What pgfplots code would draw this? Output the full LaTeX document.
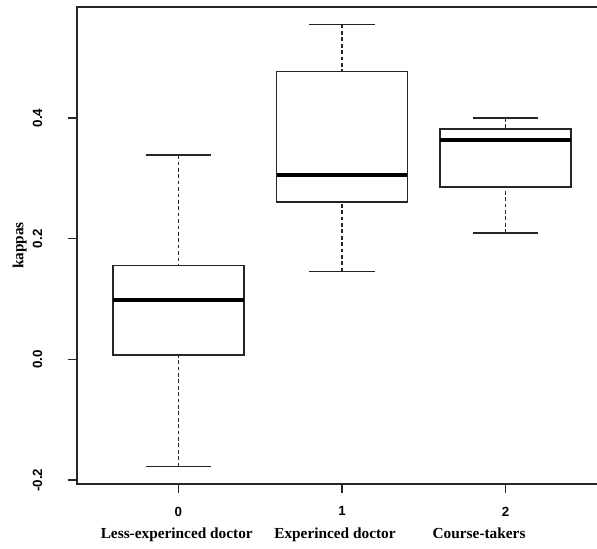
\documentclass[border=0pt]{standalone}
\usepackage{fontspec}
\setmainfont{Liberation Serif}
\setsansfont{Liberation Sans}
\usepackage{pgfplots}
\pgfplotsset{compat=1.18}
\usepgfplotslibrary{statistics}

% vertical boxes, dashed whisker stems with solid end caps
\pgfplotsset{
  boxplot/draw direction=y,
  boxplot/draw/lower whisker/.code={%
    \draw[dash pattern=on 2.8pt off 2pt, line width=1.3pt, black!85]
      (boxplot cs:\pgfplotsboxplotvalue{lower whisker})
      -- (boxplot cs:\pgfplotsboxplotvalue{lower quartile});
    \draw[line width=1.1pt, black!85]
      (boxplot whisker cs:\pgfplotsboxplotvalue{lower whisker},0)
      -- (boxplot whisker cs:\pgfplotsboxplotvalue{lower whisker},1);
  },
  boxplot/draw/upper whisker/.code={%
    \draw[dash pattern=on 2.8pt off 2pt, line width=1.3pt, black!85]
      (boxplot cs:\pgfplotsboxplotvalue{upper whisker})
      -- (boxplot cs:\pgfplotsboxplotvalue{upper quartile});
    \draw[line width=1.1pt, black!85]
      (boxplot whisker cs:\pgfplotsboxplotvalue{upper whisker},0)
      -- (boxplot whisker cs:\pgfplotsboxplotvalue{upper whisker},1);
  },
  boxplot/every median/.style={line width=3pt, black},
  boxplot/box extend=0.8,
  boxplot/whisker extend=0.4,
}

\begin{document}
\begin{tikzpicture}
\begin{axis}[
  scale only axis,
  width=397.5pt, height=357.75pt,
  xmin=-0.62, xmax=2.62,
  ymin=-0.2063, ymax=0.5839,
  clip=false,
  axis line style={line width=1.1pt, black!85},
  tick style={line width=1.1pt, black!85},
  tick align=outside, tick pos=left,
  major tick length=7pt,
  xtick={0,1,2}, xticklabels={0,1,2},
  ytick={-0.2,0,0.2,0.4}, yticklabels={-0.2,0.0,0.2,0.4},
  ticklabel style={font=\sffamily\bfseries\fontsize{10}{12}\selectfont},
  xticklabel shift=6.5pt,
  yticklabel style={rotate=90, anchor=south},
  yticklabel shift=15.5pt,
]
% prepared five-number summaries for each group
\addplot[draw=black!85, line width=1.1pt, boxplot prepared={draw position=0,
  lower whisker=-0.177, lower quartile=0.0075, median=0.099,
  upper quartile=0.1556, upper whisker=0.3385}] coordinates {};
\addplot[draw=black!85, line width=1.1pt, boxplot prepared={draw position=1,
  lower whisker=0.1456, lower quartile=0.261, median=0.306,
  upper quartile=0.477, upper whisker=0.5546}] coordinates {};
\addplot[draw=black!85, line width=1.1pt, boxplot prepared={draw position=2,
  lower whisker=0.2095, lower quartile=0.286, median=0.364,
  upper quartile=0.3817, upper whisker=0.400}] coordinates {};

% group names under the tick numbers
\begin{scope}[every node/.style={anchor=base, yshift=-40.9pt, font=\rmfamily\bfseries\fontsize{11.5}{13}\selectfont}]
\node at (axis cs:-0.01,-0.2063) {Less-experinced doctor};
\node at (axis cs:0.957,-0.2063) {Experinced doctor};
\node at (axis cs:1.838,-0.2063) {Course-takers};
\end{scope}
\coordinate (ll) at (rel axis cs:0,0);
\coordinate (ym) at (rel axis cs:0,0.5);
\end{axis}
\node[rotate=90, font=\rmfamily\bfseries\fontsize{11.5}{13}\selectfont]
  at ([xshift=-43pt]ym) {kappas};
\pgfresetboundingbox
\useasboundingbox ([shift={(-57.75pt,-48.75pt)}]ll) rectangle ([shift={(390pt,363pt)}]ll);
\end{tikzpicture}
\end{document}
